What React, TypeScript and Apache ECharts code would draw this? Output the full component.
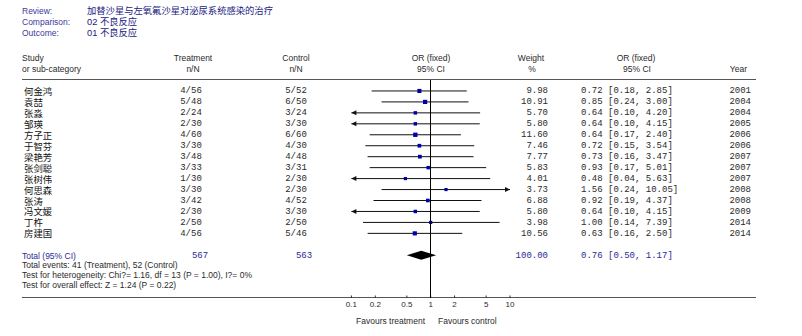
import React, { useEffect, useRef } from "react";
import * as echarts from "echarts";

const studies = ["何金鸿", "袁喆", "张淼", "邹瑛", "方子正", "于智芬", "梁艳芳", "张剑聪", "张树伟", "何思森", "张涛", "冯文媛", "丁杵", "房建国"];
const treatEvents = [4, 5, 2, 2, 4, 3, 3, 3, 1, 3, 3, 2, 2, 4];
const treatTotals = [56, 48, 24, 30, 60, 30, 48, 33, 30, 30, 42, 30, 50, 56];
const ctrlEvents = [5, 6, 3, 3, 6, 4, 4, 3, 2, 2, 4, 3, 2, 5];
const ctrlTotals = [52, 50, 24, 30, 60, 30, 48, 31, 30, 30, 52, 30, 50, 46];
const weights = [9.98, 10.91, 5.7, 5.8, 11.6, 7.46, 7.77, 5.83, 4.01, 3.73, 6.88, 5.8, 3.98, 10.56];
const oddsRatios = [0.72, 0.85, 0.64, 0.64, 0.64, 0.72, 0.73, 0.93, 0.48, 1.56, 0.92, 0.64, 1.0, 0.63];
const ciLow = [0.18, 0.24, 0.1, 0.1, 0.17, 0.15, 0.16, 0.17, 0.04, 0.24, 0.19, 0.1, 0.14, 0.16];
const ciHigh = [2.85, 3.0, 4.2, 4.15, 2.4, 3.54, 3.47, 5.01, 5.63, 10.05, 4.37, 4.15, 7.39, 2.5];
const years = [2001, 2004, 2004, 2005, 2006, 2006, 2007, 2007, 2007, 2008, 2008, 2009, 2014, 2014];

const totalTreat = 567;
const totalCtrl = 563;
const totalWeight = 100.0;
const totalOR = 0.76;
const totalLow = 0.5;
const totalHigh = 1.17;
const totalEventsTreat = 41;
const totalEventsCtrl = 52;

const axisTicks = [0.1, 0.2, 0.5, 1, 2, 5, 10];
const X_MIN = 0.1;
const X_MAX = 10;
const Y_MIN = -1;
const Y_MAX = 18.9;

const reviewTitle = "加替沙星与左氧氟沙星对泌尿系统感染的治疗";
const comparison = "02 不良反应";
const outcome = "01 不良反应";
const heterogeneity = "Test for heterogeneity: Chi?= 1.16, df = 13 (P = 1.00), I?= 0%";
const overallEffect = "Test for overall effect: Z = 1.24 (P = 0.22)";

const SANS = '"Liberation Sans", Arial, sans-serif';
const MONO = '"Liberation Mono", "Courier New", monospace';
const CJK = '"Liberation Sans", "Noto Sans CJK SC", sans-serif';
const NAVY = "#2b2b95";
const TXT = "#2a2a2a";

const COL_NAME = 24;
const COL_TREAT = 191;
const COL_CTRL = 296;
const COL_WEIGHT = 548;
const COL_CI = 581;
const COL_YEAR = 751;

const fmt2 = (v: number) => v.toFixed(2);

function txt(text: string, x: number, y: number, opts: any = {}) {
  return {
    type: "text",
    x,
    y,
    silent: true,
    style: {
      text,
      fill: opts.fill || TXT,
      fontSize: opts.fontSize || 8.5,
      fontFamily: opts.fontFamily || SANS,
      lineHeight: opts.lineHeight || 10,
      textAlign: opts.align || "left",
      textVerticalAlign: "middle",
    },
  };
}

export default function App() {
  const ref = useRef<HTMLDivElement>(null);

  useEffect(() => {
    document.body.style.margin = "0";
    if (!ref.current) return;
    const chart = echarts.init(ref.current, null, { renderer: "svg" });

    const rowData = studies.map((_, i) => [i, oddsRatios[i], ciLow[i], ciHigh[i], weights[i]]);
    const totalRow = studies.length + 1;

    const rowText = (text: string, x: number, y: number, align: string, font: string, size: number, fill: string) => ({
      type: "text",
      style: {
        text,
        x,
        y: y + 0.5,
        textAlign: align,
        textVerticalAlign: "middle",
        fontFamily: font,
        fontSize: size,
        lineHeight: 10,
        fill,
      },
    });

    const renderStudy = (params: any, api: any) => {
      const i = params.dataIndex;
      const row = api.value(0);
      const or = api.value(1);
      const lo = api.value(2);
      const hi = api.value(3);
      const w = api.value(4);
      const loC = Math.max(lo, X_MIN);
      const hiC = Math.min(hi, X_MAX);
      const p0 = api.coord([loC, row]);
      const p1 = api.coord([hiC, row]);
      const pc = api.coord([or, row]);
      const y = pc[1];
      const size = 2.6 + w * 0.15;
      const children: any[] = [
        {
          type: "line",
          shape: { x1: p0[0], y1: y, x2: p1[0], y2: y },
          style: { stroke: "#111", lineWidth: 1 },
        },
      ];
      if (lo <= X_MIN) {
        children.push({
          type: "polygon",
          shape: { points: [[p0[0], y], [p0[0] + 5, y - 2.5], [p0[0] + 5, y + 2.5]] },
          style: { fill: "#111" },
        });
      }
      if (hi >= X_MAX) {
        children.push({
          type: "polygon",
          shape: { points: [[p1[0], y], [p1[0] - 5, y - 2.5], [p1[0] - 5, y + 2.5]] },
          style: { fill: "#111" },
        });
      }
      children.push({
        type: "rect",
        shape: { x: pc[0] - size / 2, y: y - size / 2, width: size, height: size },
        style: { fill: "#0000a8" },
      });
      children.push(rowText(studies[i], COL_NAME, y, "left", CJK, 9.4, "#111"));
      children.push(rowText(`${treatEvents[i]}/${treatTotals[i]}`, COL_TREAT, y, "center", MONO, 9, TXT));
      children.push(rowText(`${ctrlEvents[i]}/${ctrlTotals[i]}`, COL_CTRL, y, "center", MONO, 9, TXT));
      children.push(rowText(fmt2(weights[i]), COL_WEIGHT, y, "right", MONO, 9, TXT));
      children.push(rowText(`${fmt2(oddsRatios[i])} [${fmt2(ciLow[i])}, ${fmt2(ciHigh[i])}]`, COL_CI, y, "left", MONO, 9, TXT));
      children.push(rowText(String(years[i]), COL_YEAR, y, "right", MONO, 9, TXT));
      return { type: "group", children };
    };

    const renderTotal = (params: any, api: any) => {
      const row = api.value(0);
      const pc = api.coord([api.value(1), row]);
      const p0 = api.coord([api.value(2), row]);
      const p1 = api.coord([api.value(3), row]);
      const y = pc[1];
      const h = 4.5;
      return {
        type: "group",
        children: [
          {
            type: "polygon",
            shape: { points: [[p0[0], y], [pc[0], y - h], [p1[0], y], [pc[0], y + h]] },
            style: { fill: "#000" },
          },
          rowText("Total (95% CI)", 22, y, "left", SANS, 8.5, NAVY),
          rowText(String(totalTreat), COL_TREAT + 9, y, "center", MONO, 9, NAVY),
          rowText(String(totalCtrl), COL_CTRL + 8, y, "center", MONO, 9, NAVY),
          rowText(totalWeight.toFixed(2), COL_WEIGHT, y, "right", MONO, 9, NAVY),
          rowText(`${fmt2(totalOR)} [${fmt2(totalLow)}, ${fmt2(totalHigh)}]`, COL_CI, y, "left", MONO, 9, NAVY),
        ],
      };
    };

    const renderTick = (params: any, api: any) => {
      const p = api.coord([api.value(0), Y_MAX]);
      return {
        type: "line",
        shape: { x1: p[0], y1: p[1] - 2.5, x2: p[0], y2: p[1] },
        style: { stroke: "#333", lineWidth: 1 },
      };
    };

    const option: any = {
      animation: false,
      grid: { left: 351.4, width: 158.6, top: 80, height: 218 },
      xAxis: {
        type: "log",
        logBase: 10,
        min: X_MIN,
        max: X_MAX,
        axisLine: { show: false },
        splitLine: { show: false },
        minorTick: { show: false },
        axisTick: { show: false },
        axisLabel: {
          customValues: axisTicks,
          fontSize: 8,
          fontFamily: SANS,
          color: TXT,
          margin: 2,
          formatter: (v: number) => String(parseFloat(Number(v).toPrecision(6))),
        },
      },
      yAxis: {
        type: "value",
        inverse: true,
        min: Y_MIN,
        max: Y_MAX,
        show: false,
      },
      series: [
        {
          type: "custom",
          clip: false,
          silent: true,
          renderItem: renderStudy,
          encode: { x: [1, 2, 3], y: 0 },
          data: rowData,
          markLine: {
            silent: true,
            symbol: "none",
            label: { show: false },
            lineStyle: { color: "#000", width: 1, type: "solid" },
            data: [{ xAxis: 1 }],
          },
        },
        {
          type: "custom",
          clip: false,
          silent: true,
          renderItem: renderTotal,
          encode: { x: [1, 2, 3], y: 0 },
          data: [[totalRow, totalOR, totalLow, totalHigh]],
        },
        {
          type: "custom",
          clip: false,
          silent: true,
          renderItem: renderTick,
          encode: { x: 0 },
          data: axisTicks.map((v) => [v]),
        },
      ],
      graphic: [
        txt("Review:", 22, 11, { fill: "#3a3a9c" }),
        txt(reviewTitle, 87, 11, { fill: "#1a1a80", fontFamily: CJK, fontSize: 9.3 }),
        txt("Comparison:", 22, 22, { fill: "#3a3a9c" }),
        txt(comparison, 87, 22, { fill: "#1a1a80", fontFamily: CJK, fontSize: 9.3 }),
        txt("Outcome:", 22, 33, { fill: "#3a3a9c" }),
        txt(outcome, 87, 33, { fill: "#1a1a80", fontFamily: CJK, fontSize: 9.3 }),
        txt("Study", 22, 58, {}),
        txt("or sub-category", 22, 69, {}),
        txt("Treatment", COL_TREAT + 2, 58, { align: "center" }),
        txt("n/N", COL_TREAT + 2, 69, { align: "center" }),
        txt("Control", COL_CTRL, 58, { align: "center" }),
        txt("n/N", COL_CTRL, 69, { align: "center" }),
        txt("OR (fixed)", 431, 58, { align: "center" }),
        txt("95% CI", 431, 69, { align: "center" }),
        txt("Weight", 531, 58, { align: "center" }),
        txt("%", 532, 69, { align: "center" }),
        txt("OR (fixed)", 636, 58, { align: "center" }),
        txt("95% CI", 637, 69, { align: "center" }),
        txt("Year", 747, 69, { align: "right" }),
        {
          type: "line",
          silent: true,
          shape: { x1: 22, y1: 79.5, x2: 756, y2: 79.5 },
          style: { stroke: "#555", lineWidth: 1.2 },
        },
        {
          type: "line",
          silent: true,
          shape: { x1: 22, y1: 297.5, x2: 756, y2: 297.5 },
          style: { stroke: "#555", lineWidth: 1 },
        },
        txt(`Total events: ${totalEventsTreat} (Treatment), ${totalEventsCtrl} (Control)`, 22, 265, {}),
        txt(heterogeneity, 22, 275, {}),
        txt(overallEffect, 22, 285, {}),
        txt("Favours treatment", 425, 321, { align: "right" }),
        txt("Favours control", 438, 321, { align: "left" }),
      ],
    };

    chart.setOption(option);
    return () => chart.dispose();
  }, []);

  return <div ref={ref} style={{ width: 802, height: 336 }} />;
}
